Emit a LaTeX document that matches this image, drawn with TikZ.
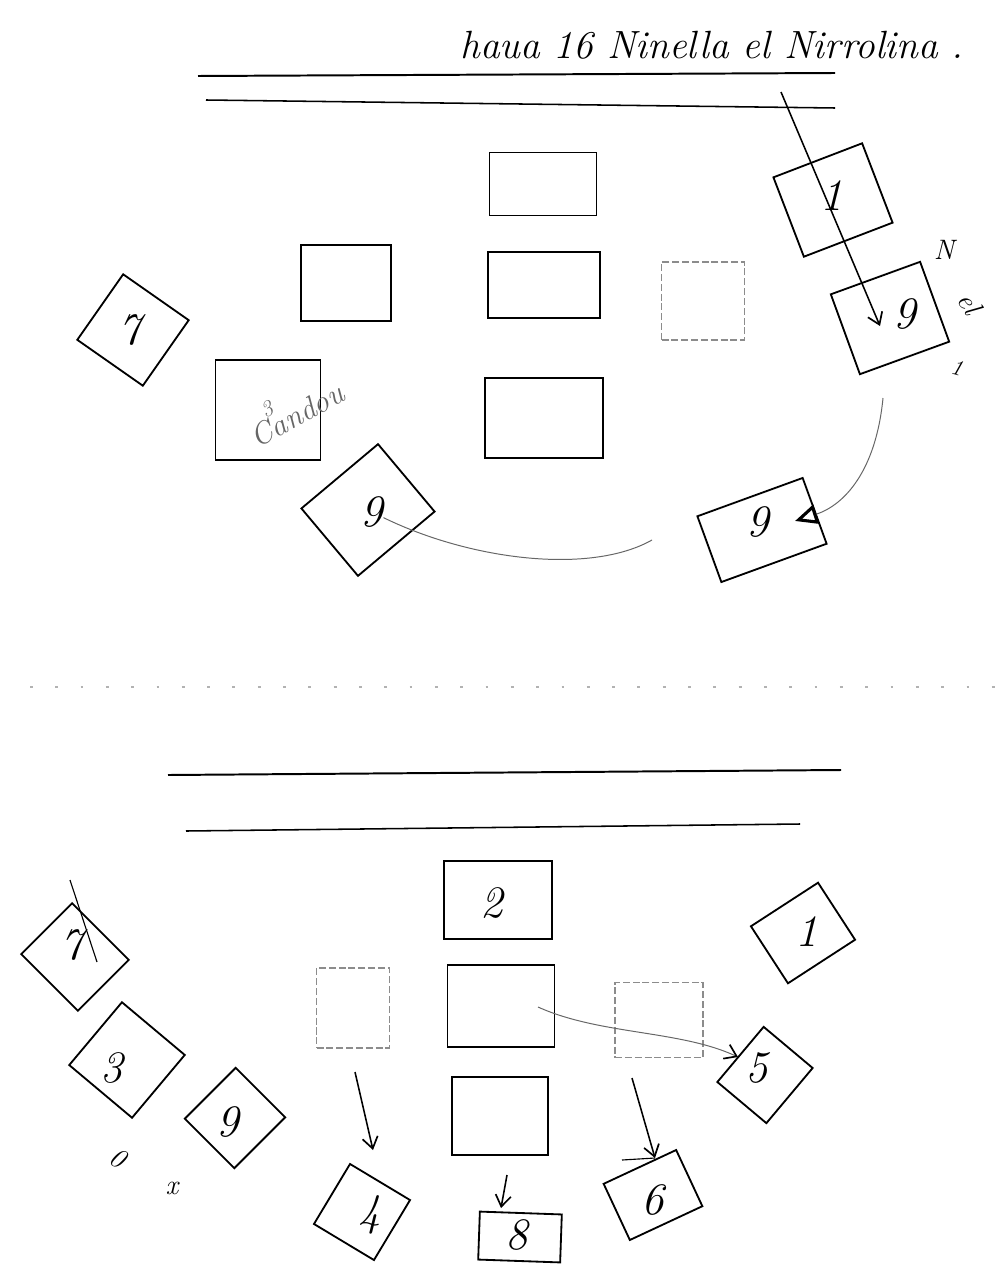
\documentclass[tikz,border=0pt]{standalone}
\usetikzlibrary{arrows.meta}
\begin{document}
\begin{tikzpicture}[x=0.025cm,y=-0.025cm,
  box/.style={draw, line width=1.3pt, inner sep=0pt},
  fbox/.style={draw=black!45, line width=0.9pt, dash pattern=on 5pt off 2pt, inner sep=0pt},
  sz/.style 2 args={minimum width=#1*0.025cm, minimum height=#2*0.025cm},
  num/.style={font=\fontsize{32}{32}\selectfont\itshape, inner sep=0pt},
  small/.style={font=\fontsize{20}{20}\selectfont\itshape, inner sep=0pt},
  conn/.style={line width=1.1pt},
  lite/.style={draw=black!60, line width=0.7pt},
  barb/.style={-{Straight Barb[length=8pt,width=11pt,line width=1.2pt,color=black]}}]
\useasboundingbox (0,0) rectangle (1002,1281);
\fill[white] (0,0) rectangle (1002,1281);

% ---------- top part ----------
\node[font=\fontsize{28}{28}\selectfont\itshape, inner sep=0pt] (title) at (712,45) {haua 16 Ninella el Nirrolina .};
\draw[line width=1.4pt] (198,76) -- (835,73);
\draw[line width=1.1pt] (206,100) -- (835,108);

\node[box, sz={107}{63}] (bA) at (543,184) {};
\node[box, sz={112}{66}] (bB) at (544,285) {};
\node[box, sz={118}{80}] (bC) at (544,418) {};
\node[box, sz={90}{76}] (bD) at (346,283) {};
\node[fbox, sz={83}{78}] (bE) at (703,301) {};
\node[box, sz={105}{100}] (bF) at (268,410) {};
\node[font=\fontsize{22}{22}\selectfont\itshape, text=black!60, rotate=29, inner sep=0pt] (tF) at (293,408) {C\rlap{\raisebox{0.75em}{\fontsize{16}{16}\selectfont 3}}andou};

\node[box, sz={80}{80}, rotate=-35] (b7) at (133,330) {};
\node[num] (t7) at (130,330) {7};
\node[box, sz={100}{88}, rotate=40] (b9a) at (368,510) {};
\node[num] (t9a) at (372,512) {9};
\node[box, sz={112}{70}, rotate=20] (b9b) at (762,530) {};
\node[num] (t9b) at (758,522) {9};
\node[box, sz={95}{85}, rotate=21] (b1) at (833,200) {};
\node[num] (t1) at (832,196) {1};
\node[box, sz={95}{85}, rotate=20] (b9c) at (890,318) {};
\node[num] (t9c) at (905,314) {9};

\node[font=\fontsize{20}{20}\selectfont\itshape, inner sep=0pt] (lN) at (944,250) {N};
\node[font=\fontsize{20}{20}\selectfont\itshape, rotate=-60, inner sep=0pt] (lel) at (970,303) {el};
\node[font=\fontsize{16}{16}\selectfont\itshape, rotate=-15, inner sep=0pt] (l1) at (957,368) {1};

\coordinate (s1) at (781,92);
\coordinate (e1) at (880,326);
\draw[conn, barb] (s1) -- (e1);
\coordinate (s2) at (883,398);
\coordinate (e2) at (795,521);
\draw[lite, -{Triangle[open,length=16pt,width=14pt,line width=2.2pt,color=black]}] (s2) .. controls (876,470) and (845,505) .. (e2);
\coordinate (e3) at (652,540);
\draw[lite] (t9a) .. controls (470,560) and (590,575) .. (e3);

\draw[black!30, line width=0.8pt, dash pattern=on 2pt off 16pt] (30,687) -- (995,687);

% ---------- bottom part ----------
\draw[line width=1.4pt] (168,775) -- (841,770);
\draw[line width=1.1pt] (186,831) -- (800,824);

\node[box, sz={108}{78}] (b2) at (498,900) {};
\node[num] (t2) at (492,903) {2};
\node[box, sz={107}{82}] (bM) at (501,1006) {};
\node[box, sz={96}{78}] (bL) at (500,1116) {};
\node[fbox, sz={73}{80}] (bDL) at (353,1008) {};
\node[fbox, sz={88}{75}] (bDR) at (659,1020) {};

\node[box, sz={70}{70}, rotate=-31] (b4) at (362,1212) {};
\node[num] (t4) at (370,1215) {4};
\node[box, sz={82}{48}, rotate=-2] (b8) at (520,1237) {};
\node[num] (t8) at (517,1235) {8};
\node[box, sz={80}{62}, rotate=25] (b6) at (653,1195) {};
\node[num] (t6) at (653,1200) {6};
\node[box, sz={64}{72}, rotate=-40] (b5) at (765,1075) {};
\node[num] (t5) at (757,1068) {5};
\node[box, sz={80}{68}, rotate=33] (b1b) at (803,933) {};
\node[num] (t1b) at (807,932) {1};
\node[box, sz={80}{72}, rotate=-45] (b7b) at (75,957) {};
\node[num] (t7b) at (72,945) {7};
\coordinate (c7a) at (70,880);
\coordinate (c7b) at (97,962);
\draw[line width=0.8pt] (c7a) -- (c7b);
\node[box, sz={82}{82}, rotate=-40] (b3) at (127,1060) {};
\node[num] (t3) at (112,1068) {3};
\node[box, sz={72}{70}, rotate=45] (b9d) at (235,1118) {};
\node[num] (t9d) at (228,1122) {9};

\node[small, rotate=-30] (s0) at (118,1158) {0};
\node[small] (sx) at (172,1188) {x};

\coordinate (a5s) at (538,1007);
\coordinate (a5e) at (738,1057);
\draw[lite, barb] (a5s) .. controls (600,1035) and (680,1030) .. (a5e);
\coordinate (a4s) at (355,1072);
\coordinate (a4e) at (373,1150);
\draw[conn, barb] (a4s) -- (a4e);
\coordinate (a6s) at (632,1078);
\coordinate (a6e) at (655,1158);
\draw[conn, barb] (a6s) -- (a6e);
\coordinate (a6t) at (622,1160);
\draw[line width=0.8pt] (a6t) -- (a6e);
\coordinate (a8s) at (507,1175);
\coordinate (a8e) at (501,1208);
\draw[conn, barb] (a8s) -- (a8e);
\end{tikzpicture}
\end{document}
